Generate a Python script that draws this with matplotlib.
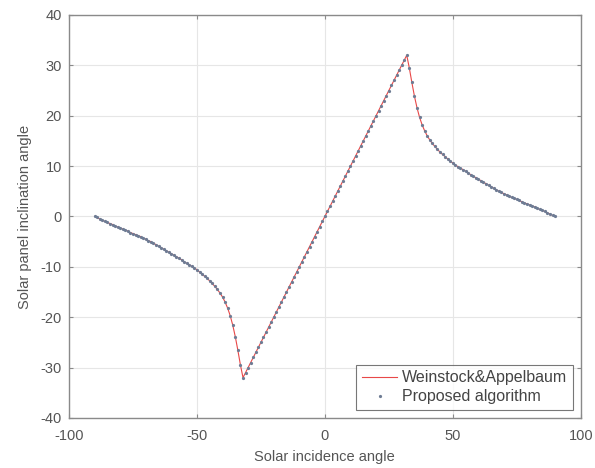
import matplotlib
matplotlib.use("Agg")
import matplotlib.pyplot as plt

plt.rcParams["axes.unicode_minus"] = False

# Data (1-degree steps of the incidence angle)
incidence = list(range(-90, 91))
left_branch = [0.0, -0.2, -0.5, -0.7, -1.0, -1.2, -1.4, -1.6, -1.9, -2.1,
               -2.3, -2.5, -2.7, -2.9, -3.2, -3.4, -3.6, -3.8, -4.0, -4.3,
               -4.5, -4.8, -5.0, -5.3, -5.6, -5.9, -6.2, -6.5, -6.8, -7.1,
               -7.4, -7.7, -8.0, -8.3, -8.6,
               -9.0, -9.3, -9.6, -9.9, -10.2, -10.6, -11.0, -11.4, -11.9, -12.3,
               -12.8, -13.3, -13.9, -14.5, -15.2, -16.0, -17.0, -18.2, -19.7, -21.6,
               -23.9, -26.6, -29.5]                      # x = -90 .. -33
linear_branch = [-32, -31, -30, -29, -28, -27, -26, -25, -24, -23, -22, -21, -20,
                 -19, -18, -17, -16, -15, -14, -13, -12, -11, -10, -9, -8, -7,
                 -6, -5, -4, -3, -2, -1, 0, 1, 2, 3, 4, 5, 6, 7, 8, 9, 10, 11,
                 12, 13, 14, 15, 16, 17, 18, 19, 20, 21, 22, 23, 24, 25, 26, 27,
                 28, 29, 30, 31, 32]                     # x = -32 .. 32
right_branch = [29.5, 26.6, 23.9, 21.6, 19.7, 18.2, 17.0, 16.0, 15.2, 14.5,
                13.9, 13.3, 12.8, 12.3, 11.9, 11.4, 11.0, 10.6, 10.2, 9.9,
                9.6, 9.3, 9.0,
                8.6, 8.3, 8.0, 7.7, 7.4, 7.1, 6.8, 6.5, 6.2, 5.9,
                5.6, 5.3, 5.0, 4.8, 4.5, 4.3, 4.0, 3.8, 3.6, 3.4,
                3.2, 2.9, 2.7, 2.5, 2.3, 2.1, 1.9, 1.6, 1.4, 1.2,
                1.0, 0.7, 0.5, 0.2, 0.0]                 # x = 33 .. 90
inclination = left_branch + linear_branch + right_branch

xticks = [-100, -50, 0, 50, 100]
yticks = [-40, -30, -20, -10, 0, 10, 20, 30, 40]

fig = plt.figure(figsize=(5.95, 4.68), dpi=100)
ax = fig.add_axes([0.116, 0.107, 0.860, 0.861])

ax.plot(incidence, inclination, color="#e84848", lw=0.8, label="Weinstock&Appelbaum")
ax.plot(incidence, inclination, ls="none", marker=".", ms=2.6, color="#6e7c94",
        label="Proposed algorithm")

ax.set_xlim(-100, 100)
ax.set_ylim(-40, 40)
ax.set_xticks(xticks)
ax.set_yticks(yticks)
ax.grid(True, color="#e6e6e6", lw=0.8)
ax.set_axisbelow(True)
for s in ax.spines.values():
    s.set_color("#8a8a8a")
    s.set_linewidth(1.0)
ax.tick_params(direction="in", top=True, right=True, colors="#8a8a8a",
               labelcolor="#555555", labelsize=10.5, length=3)
ax.tick_params(axis="x", pad=8)
ax.tick_params(axis="y", pad=5)
for lab in ax.get_xticklabels() + ax.get_yticklabels():
    lab.set_family("Liberation Sans")

ax.set_xlabel("Solar incidence angle", fontsize=10.5, color="#555555",
              family="Liberation Sans", labelpad=5)
ax.set_ylabel("Solar panel inclination angle", fontsize=10.5, color="#555555",
              family="Liberation Sans", labelpad=6)

leg = ax.legend(loc="lower right", frameon=True, fancybox=False,
                edgecolor="#555555", borderaxespad=0.5, handlelength=2.2,
                handletextpad=0.3, labelspacing=0.25, borderpad=0.35,
                prop={"family": "Liberation Sans", "size": 11.5})
leg.get_frame().set_linewidth(0.8)
for t in leg.get_texts():
    t.set_color("#444444")

fig.savefig("out.png", dpi=100)
